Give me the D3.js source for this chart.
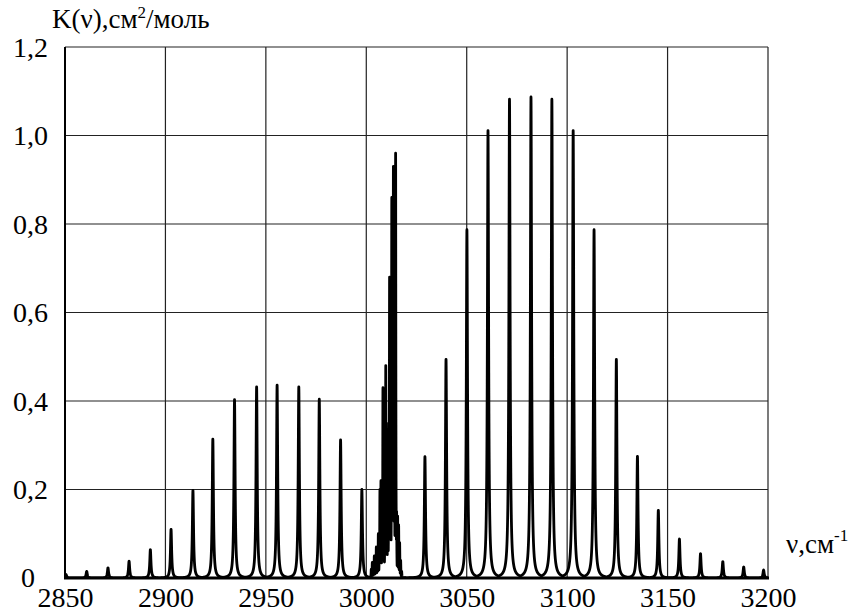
<!DOCTYPE html>
<html lang="ru">
    <head>
        <meta charset="UTF-8">
        <title>K(v) spectrum</title>
        <style>
            body {
            margin: 0;
            padding: 0;
            background: white;
            font-family: Liberation Serif, serif;
            }
        </style>
    </head>
    <body>
        <div id="chart"></div>

        <script src="https://d3js.org/d3.v7.min.js"></script>

        <script>
            // P branch lines (position cm-1, intensity)
            const pNu = [2850.5, 2860.8, 2871.4, 2881.9, 2892.5, 2902.8, 2913.7, 2923.6, 2934.4, 2945.4, 2955.6, 2966.4, 2976.6, 2987.2, 2997.8];
            const pK = [0.008, 0.015, 0.023, 0.038, 0.064, 0.11, 0.198, 0.314, 0.403, 0.432, 0.436, 0.432, 0.404, 0.312, 0.2];

            // Q branch (dense lines)
            const qNu = [3002.5, 3003.0, 3003.5, 3004.0, 3004.5, 3005.0, 3005.5, 3006.0, 3006.5, 3006.8,
                3007.3, 3007.8, 3008.3, 3008.8, 3009.3, 3009.7, 3010.2, 3010.7, 3011.2, 3011.6,
                3012.1, 3012.7, 3013.1, 3013.5, 3014.0, 3014.6, 3015.1, 3015.6, 3016.1, 3016.6, 3017.1, 3017.6];
            const qK = [0.02, 0.035, 0.03, 0.05, 0.045, 0.07, 0.06, 0.1, 0.09, 0.2,
                0.22, 0.13, 0.43, 0.18, 0.2, 0.48, 0.25, 0.3, 0.35, 0.68,
                0.4, 0.86, 0.4, 0.93, 0.45, 0.96, 0.15, 0.14, 0.12, 0.08, 0.04, 0.015];

            // R branch lines
            const rNu = [3029.2, 3039.7, 3050.1, 3060.6, 3071.3, 3082.0, 3092.4, 3103.0, 3113.4, 3124.5, 3135.0, 3145.4, 3155.9, 3166.4, 3177.5, 3187.9, 3197.8];
            const rK = [0.274, 0.494, 0.787, 1.011, 1.082, 1.087, 1.082, 1.011, 0.787, 0.494, 0.275, 0.153, 0.088, 0.055, 0.037, 0.025, 0.018];

            const xTicks = [2850, 2900, 2950, 3000, 3050, 3100, 3150, 3200];
            const yTicks = [0.2, 0.4, 0.6, 0.8, 1.0, 1.2];

            const serif = 'Liberation Serif';

            // line half widths, cm-1
            const gammaPR = 0.35;
            const gammaQ = 0.12;

            const lines = [];
            pNu.forEach((v, i) => lines.push({ nu: v, k: pK[i], w: gammaPR }));
            qNu.forEach((v, i) => lines.push({ nu: v, k: qK[i], w: gammaQ }));
            rNu.forEach((v, i) => lines.push({ nu: v, k: rK[i], w: gammaPR }));

            function profile(nu) {
                let m = 0;
                lines.forEach(l => {
                    const d = nu - l.nu;
                    if (Math.abs(d) < 12) {
                        const v = l.k * l.w * l.w / (l.w * l.w + d * d);
                        if (v > m) m = v;
                    }
                });
                return m;
            }

            const margin = { top: 47, right: 88, bottom: 36, left: 65 };
            const width = 856 - margin.left - margin.right;
            const height = 614 - margin.top - margin.bottom;

            const svg = d3.select('#chart')
            .append('svg')
            .attr('width', 856)
            .attr('height', 614)
            .attr('font-family', serif);

            const g = svg.append('g')
            .attr('transform', `translate(${margin.left}, ${margin.top})`);

            const xScale = d3.scaleLinear().domain([2850, 3200]).range([0, width]);
            const yScale = d3.scaleLinear().domain([0, 1.2]).range([height, 0]);

            // grid
            g.append('g')
            .selectAll('line')
            .data(xTicks.slice(1))
            .enter().append('line')
            .attr('x1', d => xScale(d)).attr('x2', d => xScale(d))
            .attr('y1', 0).attr('y2', height)
            .attr('stroke', '#222').attr('stroke-width', 1.2);

            g.append('g')
            .selectAll('line')
            .data(yTicks)
            .enter().append('line')
            .attr('x1', 0).attr('x2', width)
            .attr('y1', d => yScale(d)).attr('y2', d => yScale(d))
            .attr('stroke', '#222').attr('stroke-width', 1.2);

            // spectrum
            const pts = [];
            for (let nu = 2850; nu <= 3200; nu += 0.02) pts.push([nu, profile(nu)]);

            g.append('clipPath').attr('id', 'clip')
            .append('rect').attr('x', 0).attr('y', -5).attr('width', width).attr('height', height + 5);

            g.append('path')
            .datum(pts)
            .attr('clip-path', 'url(#clip)')
            .attr('fill', 'none')
            .attr('stroke', 'black')
            .attr('stroke-width', 2.8)
            .attr('stroke-linejoin', 'round')
            .attr('d', d3.line().x(d => xScale(d[0])).y(d => yScale(d[1])));

            // axes
            g.append('line')
            .attr('x1', 0).attr('x2', 0).attr('y1', 0).attr('y2', height + 1)
            .attr('stroke', 'black').attr('stroke-width', 2);
            g.append('line')
            .attr('x1', -1).attr('x2', width + 1).attr('y1', height).attr('y2', height)
            .attr('stroke', 'black').attr('stroke-width', 3);

            const xAxis = g.append('g')
            .attr('transform', `translate(0, ${height})`)
            .call(d3.axisBottom(xScale).tickValues(xTicks).tickSize(0).tickPadding(0).tickFormat(d3.format('d')));
            xAxis.select('.domain').remove();
            xAxis.attr('font-family', serif).attr('font-size', 28);
            xAxis.selectAll('text')
            .attr('y', 29)
            .attr('dy', 0);

            const yAxis = g.append('g')
            .call(d3.axisLeft(yScale).tickValues(yTicks).tickSize(0).tickPadding(17).tickFormat(d => d3.format('.1f')(d).replace('.', ',')));
            yAxis.select('.domain').remove();
            yAxis.attr('font-family', serif).attr('font-size', 28);
            yAxis.selectAll('text')
            .attr('dy', '0.33em');

            g.append('text')
            .attr('x', -30).attr('y', yScale(0) + 9)
            .attr('text-anchor', 'end')
            .attr('font-size', 28)
            .text('0');

            // axis titles
            const yt = svg.append('text')
            .attr('x', 52).attr('y', 28)
            .attr('font-size', 27);
            yt.append('tspan').text('K(ν),см');
            yt.append('tspan').attr('dy', -10).attr('font-size', 17).text('2');
            yt.append('tspan').attr('dy', 10).text('/моль');

            const xt = svg.append('text')
            .attr('x', 786).attr('y', 553)
            .attr('font-size', 27);
            xt.append('tspan').text('ν,см');
            xt.append('tspan').attr('dy', -12).attr('font-size', 17).text('-1');
        </script>
    </body>
</html>
